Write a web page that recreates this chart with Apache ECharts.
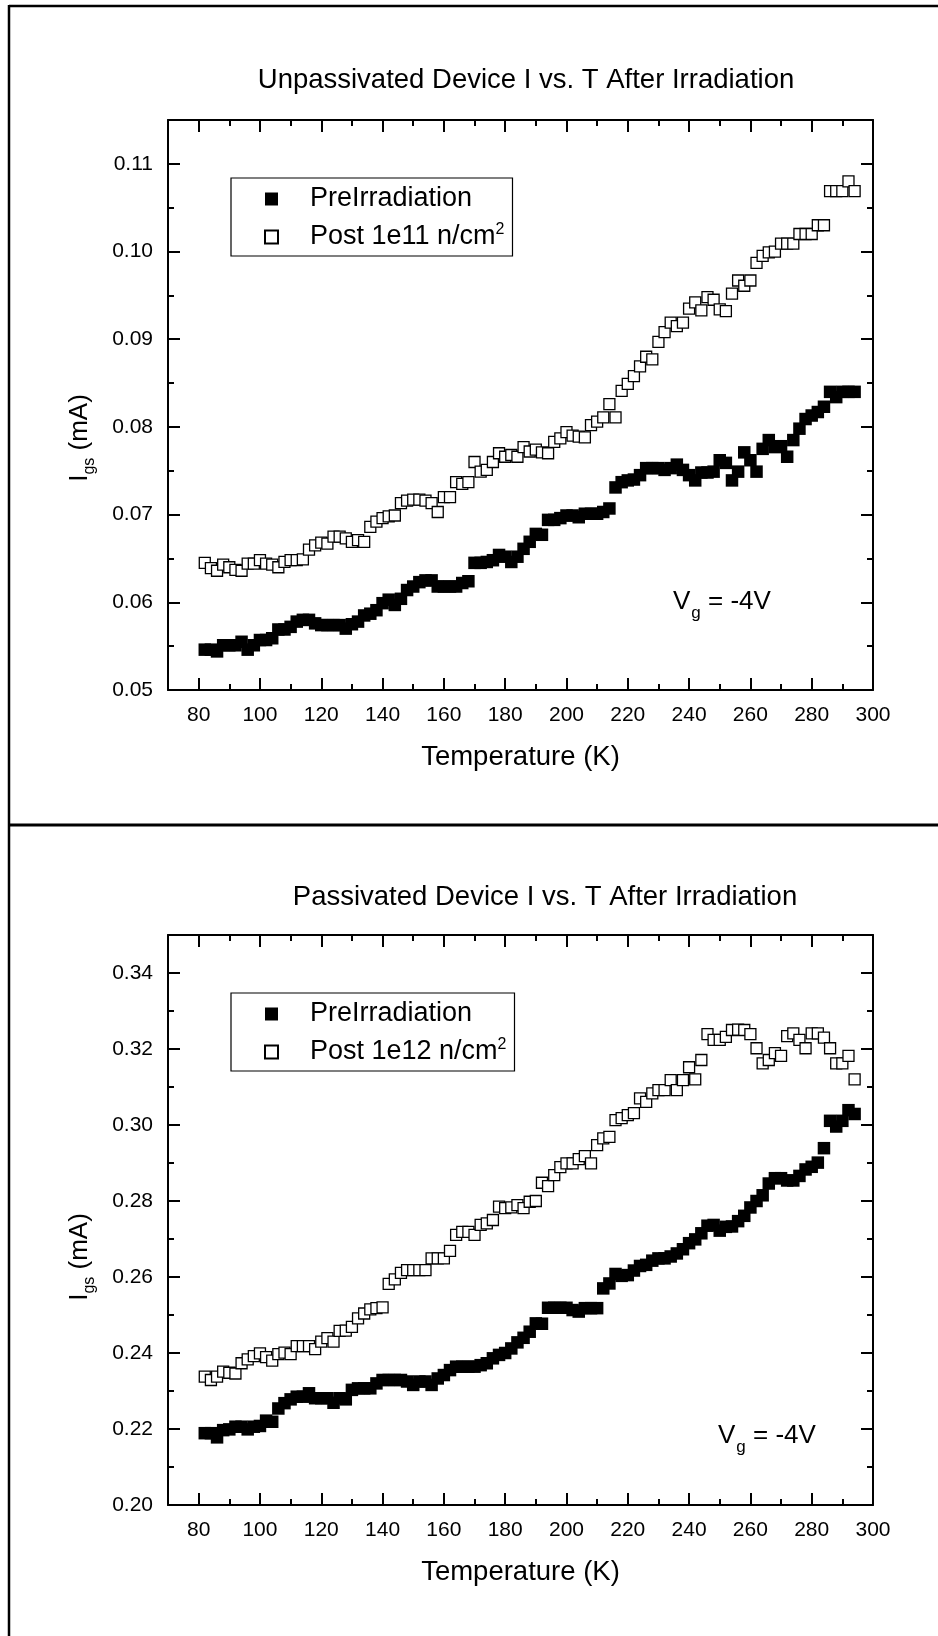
<!DOCTYPE html>
<html><head><meta charset="utf-8">
<script src="https://cdn.jsdelivr.net/npm/echarts@6/dist/echarts.min.js"></script>
<style>html,body{margin:0;padding:0;background:#fff}#c{width:938px;height:1636px}</style>
</head><body><div id="c"></div>
<script>
// ---- data ----
const temperatureK = [
  82,84,86,88,90,92,94,96,98,100,
  102,104,106,108,110,112,114,116,118,120,
  122,124,126,128,130,132,134,136,138,140,
  142,144,146,148,150,152,154,156,158,160,
  162,164,166,168,170,172,174,176,178,180,
  182,184,186,188,190,192,194,196,198,200,
  202,204,206,208,210,212,214,216,218,220,
  222,224,226,228,230,232,234,236,238,240,
  242,244,246,248,250,252,254,256,258,260,
  262,264,266,268,270,272,274,276,278,280,
  282,284,286,288,290,292,294
];
// Unpassivated device, Igs (mA)
const unpassPre = [
  0.0546,0.0546,0.0544,0.0551,0.0551,0.0551,0.0555,0.0546,0.0551,0.0557,
  0.0557,0.0559,0.0569,0.0569,0.0572,0.0578,0.0580,0.0580,0.0576,0.0574,
  0.0574,0.0574,0.0574,0.0570,0.0575,0.0578,0.0585,0.0587,0.0591,0.0599,
  0.0603,0.0597,0.0604,0.0614,0.0618,0.0623,0.0625,0.0625,0.0618,0.0618,
  0.0618,0.0618,0.0622,0.0624,0.0645,0.0645,0.0646,0.0648,0.0654,0.0652,
  0.0646,0.0652,0.0661,0.0669,0.0678,0.0677,0.0694,0.0694,0.0696,0.0699,
  0.0699,0.0697,0.0701,0.0701,0.0701,0.0703,0.0707,0.0731,0.0737,0.0739,
  0.0740,0.0745,0.0753,0.0753,0.0753,0.0751,0.0753,0.0757,0.0751,0.0745,
  0.0739,0.0748,0.0748,0.0749,0.0762,0.0759,0.0739,0.0749,0.0771,0.0762,
  0.0749,0.0775,0.0785,0.0777,0.0778,0.0766,0.0785,0.0798,0.0809,0.0813,
  0.0817,0.0823,0.0840,0.0834,0.0840,0.0840,0.0840
];
const unpassPost = [
  0.0645,0.0639,0.0636,0.0643,0.0640,0.0637,0.0636,0.0644,0.0644,0.0648,
  0.0644,0.0643,0.0640,0.0646,0.0648,0.0648,0.0649,0.0660,0.0665,0.0668,
  0.0667,0.0675,0.0675,0.0673,0.0669,0.0671,0.0669,0.0686,0.0692,0.0696,
  0.0698,0.0699,0.0713,0.0716,0.0717,0.0717,0.0716,0.0713,0.0703,0.0720,
  0.0720,0.0737,0.0735,0.0737,0.0760,0.0749,0.0751,0.0760,0.0770,0.0766,
  0.0768,0.0766,0.0777,0.0772,0.0774,0.0771,0.0770,0.0783,0.0787,0.0794,
  0.0790,0.0789,0.0788,0.0802,0.0806,0.0811,0.0826,0.0811,0.0841,0.0849,
  0.0858,0.0869,0.0880,0.0877,0.0897,0.0908,0.0919,0.0915,0.0919,0.0935,
  0.0942,0.0933,0.0948,0.0945,0.0934,0.0932,0.0952,0.0967,0.0961,0.0967,
  0.0987,0.0995,0.0999,0.1000,0.1009,0.1009,0.1009,0.1020,0.1020,0.1020,
  0.1030,0.1030,0.1069,0.1069,0.1069,0.1080,0.1069
];
// Passivated device, Igs (mA)
const passPre = [
  0.2189,0.2189,0.2178,0.2197,0.2199,0.2206,0.2206,0.2199,0.2206,0.2208,
  0.2222,0.2219,0.2254,0.2268,0.2278,0.2285,0.2285,0.2294,0.2281,0.2281,
  0.2281,0.2269,0.2281,0.2278,0.2303,0.2307,0.2307,0.2307,0.2320,0.2329,
  0.2329,0.2329,0.2329,0.2325,0.2316,0.2325,0.2325,0.2316,0.2333,0.2342,
  0.2355,0.2364,0.2364,0.2364,0.2364,0.2368,0.2373,0.2386,0.2395,0.2400,
  0.2412,0.2428,0.2440,0.2456,0.2478,0.2477,0.2519,0.2519,0.2519,0.2519,
  0.2513,0.2509,0.2518,0.2518,0.2518,0.2570,0.2583,0.2608,0.2603,0.2605,
  0.2617,0.2629,0.2632,0.2643,0.2649,0.2649,0.2654,0.2662,0.2673,0.2689,
  0.2699,0.2715,0.2735,0.2737,0.2722,0.2732,0.2733,0.2747,0.2761,0.2783,
  0.2800,0.2815,0.2846,0.2860,0.2860,0.2854,0.2854,0.2866,0.2883,0.2890,
  0.2901,0.2939,0.3011,0.2996,0.3011,0.3039,0.3029
];
const passPost = [
  0.2338,0.2329,0.2338,0.2351,0.2348,0.2346,0.2373,0.2383,0.2392,0.2399,
  0.2389,0.2380,0.2397,0.2401,0.2397,0.2418,0.2418,0.2418,0.2410,0.2430,
  0.2439,0.2430,0.2458,0.2459,0.2469,0.2491,0.2504,0.2515,0.2518,0.2520,
  0.2582,0.2594,0.2611,0.2618,0.2618,0.2618,0.2618,0.2649,0.2649,0.2649,
  0.2669,0.2711,0.2719,0.2719,0.2711,0.2737,0.2741,0.2750,0.2785,0.2781,
  0.2783,0.2789,0.2781,0.2798,0.2800,0.2848,0.2839,0.2868,0.2889,0.2899,
  0.2899,0.2910,0.2918,0.2899,0.2947,0.2965,0.2969,0.3013,0.3018,0.3026,
  0.3031,0.3070,0.3061,0.3083,0.3092,0.3092,0.3118,0.3092,0.3118,0.3152,
  0.3120,0.3171,0.3239,0.3224,0.3224,0.3232,0.3250,0.3251,0.3250,0.3239,
  0.3202,0.3162,0.3171,0.3189,0.3182,0.3234,0.3241,0.3224,0.3202,0.3241,
  0.3241,0.3230,0.3202,0.3162,0.3162,0.3182,0.3120
];
// ticks
const xMajorTicks = [80,100,120,140,160,180,200,220,240,260,280,300];
const xMinorTicks = [90,110,130,150,170,190,210,230,250,270,290];
const yTopMajorTicks = [0.05,0.06,0.07,0.08,0.09,0.10,0.11];
const yTopMinorTicks = [0.055,0.065,0.075,0.085,0.095,0.105];
const yBotMajorTicks = [0.20,0.22,0.24,0.26,0.28,0.30,0.32,0.34];
const yBotMinorTicks = [0.21,0.23,0.25,0.27,0.29,0.31,0.33];
// texts
const titles = ['Unpassivated Device I vs. T After Irradiation', 'Passivated Device I vs. T After Irradiation'];
const preName = 'PreIrradiation';
const postNames = ['Post 1e11 n/cm2', 'Post 1e12 n/cm2'];
const xName = 'Temperature (K)';

// ---- chart ----
const FONT = '"Liberation Sans", Arial, Helvetica, sans-serif';
const chart = echarts.init(document.getElementById('c'), null, {renderer: 'canvas'});

const grids = [
  {left: 168, top: 120, width: 705, height: 570},
  {left: 168, top: 935, width: 705, height: 570}
];
const yRanges = [[0.05, 0.115], [0.20, 0.35]];
const yMajors = [yTopMajorTicks, yBotMajorTicks];
const yMinors = [yTopMinorTicks, yBotMinorTicks];

const xAxes = [], yAxes = [];
const lineStyle = {color: '#000', width: 2};
grids.forEach((g, gi) => {
  const base = {type: 'value', gridIndex: gi, min: 70, max: 300, splitLine: {show: false}};
  xAxes.push(Object.assign({}, base, {
    position: 'bottom',
    axisLine: {show: true, onZero: false, lineStyle},
    axisTick: {show: true, inside: true, length: 12, customValues: xMajorTicks, lineStyle},
    axisLabel: {show: true, customValues: xMajorTicks, margin: 15, color: '#000', fontSize: 21, fontFamily: FONT},
    name: xName, nameLocation: 'middle', nameGap: 53,
    nameTextStyle: {color: '#000', fontSize: 27.5, fontFamily: FONT}
  }));
  xAxes.push(Object.assign({}, base, {
    position: 'bottom',
    axisLine: {show: false, onZero: false},
    axisTick: {show: true, inside: true, length: 6, customValues: xMinorTicks, lineStyle},
    axisLabel: {show: false}
  }));
  xAxes.push(Object.assign({}, base, {
    position: 'top',
    axisLine: {show: true, onZero: false, lineStyle},
    axisTick: {show: true, inside: true, length: 12, customValues: xMajorTicks, lineStyle},
    axisLabel: {show: false}
  }));
  xAxes.push(Object.assign({}, base, {
    position: 'top',
    axisLine: {show: false, onZero: false},
    axisTick: {show: true, inside: true, length: 6, customValues: xMinorTicks, lineStyle},
    axisLabel: {show: false}
  }));
  const yb = {type: 'value', gridIndex: gi, min: yRanges[gi][0], max: yRanges[gi][1], splitLine: {show: false}};
  yAxes.push(Object.assign({}, yb, {
    position: 'left',
    axisLine: {show: true, onZero: false, lineStyle},
    axisTick: {show: true, inside: true, length: 12, customValues: yMajors[gi], lineStyle},
    axisLabel: {show: true, customValues: yMajors[gi], margin: 15, color: '#000', fontSize: 21, fontFamily: FONT,
      formatter: v => Number(v).toFixed(2)}
  }));
  yAxes.push(Object.assign({}, yb, {
    position: 'left',
    axisLine: {show: false, onZero: false},
    axisTick: {show: true, inside: true, length: 6, customValues: yMinors[gi], lineStyle},
    axisLabel: {show: false}
  }));
  yAxes.push(Object.assign({}, yb, {
    position: 'right',
    axisLine: {show: true, onZero: false, lineStyle},
    axisTick: {show: true, inside: true, length: 12, customValues: yMajors[gi], lineStyle},
    axisLabel: {show: false}
  }));
  yAxes.push(Object.assign({}, yb, {
    position: 'right',
    axisLine: {show: false, onZero: false},
    axisTick: {show: true, inside: true, length: 6, customValues: yMinors[gi], lineStyle},
    axisLabel: {show: false}
  }));
});

function pairs(ys) { return temperatureK.map((t, i) => [t, ys[i]]); }

const filledStyle = {color: '#000', opacity: 1};
const openStyle = {color: '#fff', borderColor: '#000', borderWidth: 1.3, opacity: 1};
const series = [
  {name: preName, type: 'scatter', xAxisIndex: 0, yAxisIndex: 0, symbol: 'rect', symbolSize: 12.5, itemStyle: filledStyle, data: pairs(unpassPre)},
  {name: postNames[0], type: 'scatter', xAxisIndex: 0, yAxisIndex: 0, symbol: 'rect', symbolSize: 11, itemStyle: openStyle, data: pairs(unpassPost)},
  {name: preName, type: 'scatter', xAxisIndex: 4, yAxisIndex: 4, symbol: 'rect', symbolSize: 12.5, itemStyle: filledStyle, data: pairs(passPre)},
  {name: postNames[1], type: 'scatter', xAxisIndex: 4, yAxisIndex: 4, symbol: 'rect', symbolSize: 11, itemStyle: openStyle, data: pairs(passPost)}
];

const legendBase = {
  orient: 'vertical', left: 231, itemWidth: 13, itemHeight: 13, itemGap: 8,
  padding: [6, 8, 4, 33], borderColor: '#000', borderWidth: 1.2, backgroundColor: '#fff',
  selectedMode: false,
  formatter: n => n.replace('cm2', 'cm{sup|2}'),
  textStyle: {color: '#000', fontSize: 27, fontFamily: FONT, lineHeight: 30, padding: [0, 0, 0, 27],
    rich: {sup: {fontSize: 16, fontFamily: FONT, verticalAlign: 'top', lineHeight: 16, color: '#000'}}}
};
const legends = [
  Object.assign({}, legendBase, {top: 178, data: [{name: preName}, {name: postNames[0]}]}),
  Object.assign({}, legendBase, {top: 993, data: [{name: preName}, {name: postNames[1]}]})
];

const txt = {fill: '#000', fontFamily: FONT};
function vgText(x, y) {
  return {type: 'text', x, y, style: Object.assign({}, txt, {
    text: '{a|V}{s|g}{a| = -4V}', align: 'left', verticalAlign: 'top',
    rich: {a: {fontSize: 26, lineHeight: 26, verticalAlign: 'top', fontFamily: FONT, color: '#000'},
           s: {fontSize: 17, lineHeight: 17, padding: [16, 0, 0, 1], verticalAlign: 'top', fontFamily: FONT, color: '#000'}}
  })};
}
function yName(x, y) {
  return {type: 'text', x, y, rotation: Math.PI / 2, style: Object.assign({}, txt, {
    text: '{a|I}{s|gs}{a| (mA)}', align: 'center', verticalAlign: 'middle',
    rich: {a: {fontSize: 26, lineHeight: 26, verticalAlign: 'top', fontFamily: FONT, color: '#000'},
           s: {fontSize: 16, lineHeight: 16, padding: [15, 0, 0, 0], verticalAlign: 'top', fontFamily: FONT, color: '#000'}}
  })};
}
const graphic = [
  {type: 'line', shape: {x1: 9, y1: 6, x2: 938, y2: 6}, style: {stroke: '#000', lineWidth: 2.5}},
  {type: 'line', shape: {x1: 9, y1: 5, x2: 9, y2: 1636}, style: {stroke: '#000', lineWidth: 2.5}},
  {type: 'line', shape: {x1: 9, y1: 825, x2: 938, y2: 825}, style: {stroke: '#000', lineWidth: 3}},
  {type: 'text', x: 526, y: 80, style: Object.assign({}, txt, {text: titles[0], fontSize: 27.5, align: 'center', verticalAlign: 'middle'})},
  {type: 'text', x: 545, y: 897, style: Object.assign({}, txt, {text: titles[1], fontSize: 27.5, align: 'center', verticalAlign: 'middle'})},
  yName(80, 438),
  yName(80, 1257),
  vgText(673, 589),
  vgText(718, 1423)
];

chart.setOption({
  animation: false,
  backgroundColor: '#fff',
  grid: grids,
  xAxis: xAxes,
  yAxis: yAxes,
  legend: legends,
  series,
  graphic
});
</script></body></html>
